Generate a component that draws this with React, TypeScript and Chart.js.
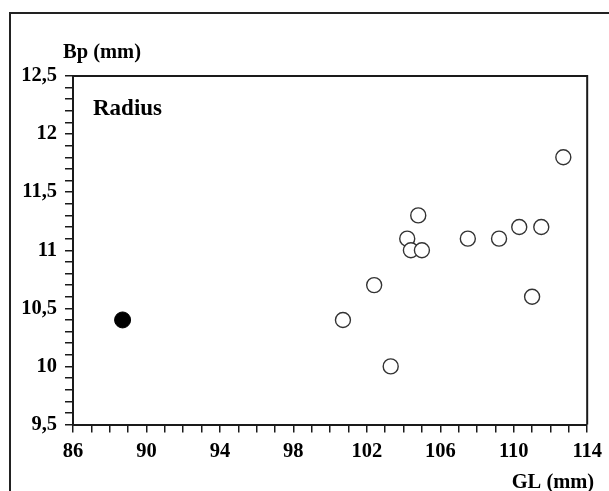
import React, { useEffect, useRef } from "react";
import { Chart, registerables } from "chart.js";

Chart.register(...registerables);

// Open circles: comparison radii (GL, Bp)
const openGL = [100.7, 102.4, 103.3, 104.2, 104.4, 104.8, 105.0, 107.5, 109.2, 110.3, 111.0, 111.5, 112.7];
const openBp = [10.4, 10.7, 10.0, 11.1, 11.0, 11.3, 11.0, 11.1, 11.1, 11.2, 10.6, 11.2, 11.8];
// Filled circle: the studied specimen
const filledGL = [88.7];
const filledBp = [10.4];

const xMajorTicks = [86, 90, 94, 98, 102, 106, 110, 114];
const xTickLabels = ["86", "90", "94", "98", "102", "106", "110", "114"];
const yMajorTicks = [9.5, 10, 10.5, 11, 11.5, 12, 12.5];
const yTickLabels = ["9,5", "10", "10,5", "11", "11,5", "12", "12,5"];

const xTitle = "GL (mm)";
const yTitle = "Bp (mm)";
const panelLabel = "Radius";

const FONT = "'Liberation Serif', 'Times New Roman', serif";
const INK = "#1a1a1a";

function labelFor(v: number, majors: number[], labels: string[]) {
  const i = majors.findIndex((m) => Math.abs(m - v) < 1e-6);
  return i >= 0 ? labels[i] : "";
}

const framePlugin = {
  id: "framePlugin",
  afterDraw(chart: any) {
    const { ctx, chartArea } = chart;
    ctx.save();
    ctx.strokeStyle = INK;
    ctx.lineWidth = 2;
    ctx.beginPath();
    ctx.moveTo(chartArea.left, chartArea.top);
    ctx.lineTo(chartArea.right, chartArea.top);
    ctx.lineTo(chartArea.right, chartArea.bottom);
    ctx.stroke();
    ctx.fillStyle = "#000";
    ctx.font = `bold 20.5px ${FONT}`;
    ctx.textBaseline = "alphabetic";
    ctx.textAlign = "left";
    ctx.fillText(yTitle, chartArea.left - 10, chartArea.top - 18);
    ctx.font = `bold 23px ${FONT}`;
    ctx.fillText(panelLabel, chartArea.left + 20, chartArea.top + 39);
    ctx.font = `bold 20.5px ${FONT}`;
    ctx.textAlign = "right";
    ctx.fillText(xTitle, chartArea.right + 7, chartArea.bottom + 63);
    ctx.restore();
  },
};

export default function App() {
  const ref = useRef<HTMLCanvasElement | null>(null);

  useEffect(() => {
    if (!ref.current) return;
    const chart = new Chart(ref.current, {
      type: "scatter",
      data: {
        datasets: [
          {
            label: "open",
            data: openGL.map((x, i) => ({ x, y: openBp[i] })),
            pointStyle: "circle",
            pointRadius: 7.5,
            pointHoverRadius: 7.5,
            backgroundColor: "#ffffff",
            borderColor: "#333333",
            borderWidth: 1.4,
          },
          {
            label: "filled",
            data: filledGL.map((x, i) => ({ x, y: filledBp[i] })),
            pointStyle: "circle",
            pointRadius: 8,
            pointHoverRadius: 8,
            backgroundColor: "#000000",
            borderColor: "#000000",
            borderWidth: 1,
          },
        ],
      },
      options: {
        responsive: false,
        animation: false,
        devicePixelRatio: 1,
        layout: { padding: { left: 0, top: 76, right: 19, bottom: 0 } },
        plugins: {
          legend: { display: false },
          tooltip: { enabled: false },
          title: { display: false },
        },
        scales: {
          x: {
            type: "linear",
            min: 86,
            max: 114,
            afterFit: (s: any) => {
              s.height = 66.5;
            },
            border: { display: true, color: INK, width: 2 },
            grid: {
              display: true,
              drawOnChartArea: false,
              drawTicks: true,
              tickLength: 8,
              color: INK,
              lineWidth: 1.5,
            },
            ticks: {
              stepSize: 1,
              autoSkip: false,
              maxRotation: 0,
              maxTicksLimit: 100,
              padding: 7,
              color: "#000",
              font: { family: FONT, size: 20.5, weight: "bold" },
              callback: (v: any) => labelFor(Number(v), xMajorTicks, xTickLabels),
            },
          },
          y: {
            type: "linear",
            min: 9.5,
            max: 12.5,
            afterFit: (s: any) => {
              s.width = 73;
            },
            border: { display: true, color: INK, width: 2 },
            grid: {
              display: true,
              drawOnChartArea: false,
              drawTicks: true,
              tickLength: 8,
              color: INK,
              lineWidth: 1.5,
            },
            ticks: {
              stepSize: 0.1,
              autoSkip: false,
              maxTicksLimit: 100,
              padding: 8,
              color: "#000",
              font: { family: FONT, size: 20.5, weight: "bold" },
              callback: (v: any) => labelFor(Number(v), yMajorTicks, yTickLabels),
            },
          },
        },
      },
      plugins: [framePlugin],
    } as any);
    return () => chart.destroy();
  }, []);

  return (
    <div style={{ position: "fixed", left: 0, top: 0, width: 609, height: 491, background: "#fff", overflow: "hidden" }}>
      <div
        style={{
          position: "absolute",
          left: 9,
          top: 12,
          right: -4,
          bottom: -4,
          borderTop: "2px solid #222",
          borderLeft: "2px solid #222",
        }}
      />
      <canvas ref={ref} width={609} height={491} style={{ position: "absolute", left: 0, top: 0 }} />
    </div>
  );
}
